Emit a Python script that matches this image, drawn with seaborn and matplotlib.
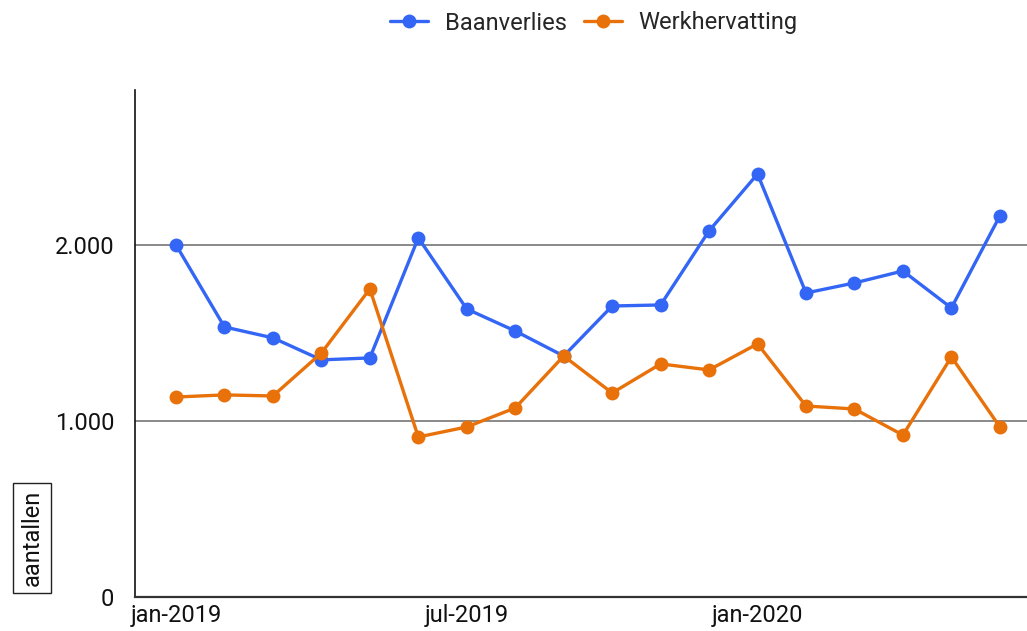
import pandas as pd
import seaborn as sns
import matplotlib.pyplot as plt

maanden = ['jan-2019', 'feb-2019', 'mrt-2019', 'apr-2019', 'mei-2019', 'jun-2019',
           'jul-2019', 'aug-2019', 'sep-2019', 'okt-2019', 'nov-2019', 'dec-2019',
           'jan-2020', 'feb-2020', 'mrt-2020', 'apr-2020', 'mei-2020', 'jun-2020']
baanverlies = [2000, 1534, 1472, 1347, 1358, 2040, 1636, 1511, 1369, 1653, 1659, 2080,
               2403, 1727, 1784, 1852, 1642, 2165]
werkhervatting = [1136, 1148, 1142, 1386, 1750, 909, 966, 1074, 1369, 1159, 1324, 1290,
                  1438, 1085, 1068, 920, 1364, 966]
tick_labels = ['jan-2019', 'jul-2019', 'jan-2020']

df = pd.DataFrame({'idx': list(range(len(maanden))) * 2,
                   'waarde': baanverlies + werkhervatting,
                   'reeks': ['Baanverlies'] * len(maanden) + ['Werkhervatting'] * len(maanden)})

sns.set_style('white')
plt.rcParams['font.family'] = ['Roboto', 'DejaVu Sans']

fig = plt.figure(figsize=(10.27, 6.31), dpi=100)
ax = fig.add_axes([135 / 1027, 1 - 597 / 631, 892 / 1027, (597 - 90) / 631])

sns.lineplot(data=df, x='idx', y='waarde', hue='reeks', ax=ax,
             palette={'Baanverlies': '#3366f5', 'Werkhervatting': '#e8710a'},
             marker='o', markersize=10, markeredgewidth=0, linewidth=2.4, legend=False)

ax.set_xlim(-0.846, 17.56)
ax.set_ylim(0, 2880)
ax.set_xticks([0, 6, 12])
ax.set_xticklabels(tick_labels)
ax.set_yticks([0, 1000, 2000])
ax.set_yticklabels(['0', '1.000', '2.000'])
ax.tick_params(axis='both', length=0, labelsize=17, colors='#111111')
ax.tick_params(axis='x', pad=5)
ax.tick_params(axis='y', pad=15)
ax.set_xlabel('')
ax.set_ylabel('')
for y in [1000, 2000]:
    ax.axhline(y, color='#808080', lw=1.3, zorder=0)

for s in ['top', 'right']:
    ax.spines[s].set_visible(False)
ax.spines['left'].set_color('#111111')
ax.spines['left'].set_linewidth(1.2)
ax.spines['bottom'].set_color('#333333')
ax.spines['bottom'].set_linewidth(1.6)

fig.text(32 / 1027, 1 - 538 / 631, 'aantallen', rotation=90, ha='center', va='center',
         fontsize=17, color='#111111',
         bbox=dict(boxstyle='square,pad=0.3', fc='white', ec='#222222', lw=1))

handles = [plt.Line2D([], [], color='#3366f5', marker='o', markersize=10, lw=2.4, markeredgewidth=0),
           plt.Line2D([], [], color='#e8710a', marker='o', markersize=10, lw=2.4, markeredgewidth=0)]
fig.legend(handles, ['Baanverlies', 'Werkhervatting'], loc='center', ncol=2,
           bbox_to_anchor=(594 / 1027, 1 - 23 / 631), frameon=False, fontsize=17,
           handlelength=1.6, columnspacing=0.75, handletextpad=0.7)

fig.savefig('out.png', dpi=100)
